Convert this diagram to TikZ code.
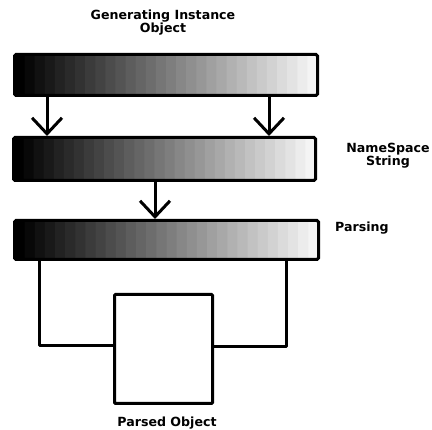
\documentclass[tikz,border=0pt]{standalone}
\usepackage{fontspec}
\setmainfont{DejaVu Sans}
\usetikzlibrary{calc,arrows.meta}

\tikzset{
  shadedbar/.style={draw, line width=3pt, rounded corners=1.5pt, inner sep=0pt,
    path picture={
      \foreach \i [evaluate=\i as \s using 100-3.3*\i] in {0,...,29}{
        \fill[black!\s]
          ($(path picture bounding box.south west)!\i/30!(path picture bounding box.south east)$)
          rectangle
          ([xshift=0.8pt]$(path picture bounding box.north west)!{(\i+1)/30}!(path picture bounding box.north east)$);
      }
    }},
  flow/.style={line width=3pt, -{Straight Barb[length=16pt,width=30pt,line width=3pt]}},
  wire/.style={line width=3pt, line join=round, line cap=round},
  label/.style={font=\bfseries\fontsize{12.6}{13}\selectfont, align=center, inner sep=0pt}
}

\begin{document}
\begin{tikzpicture}[x=1pt, y=-1pt]
  \useasboundingbox (0,0) rectangle (432,430);

  % three shaded stages
  \node[shadedbar, minimum width=303pt, minimum height=41pt] (gen)   at (166,75) {};
  \node[shadedbar, minimum width=302pt, minimum height=43pt] (ns)    at (164.5,159) {};
  \node[shadedbar, minimum width=304pt, minimum height=39pt] (parse) at (166.5,240) {};

  % result box
  \node[draw, line width=3pt, rounded corners=1pt, minimum width=98pt, minimum height=109pt, inner sep=0pt] (obj) at (163.5,349) {};

  % captions
  \node[label] (tgen)   at (163,23)  {Generating Instance\\Object};
  \node[label] (tns)    at (388,156) {NameSpace\\String};
  \node[label, anchor=west] (tparse) at (335,228) {Parsing};
  \node[label] (tobj)   at (167,423) {Parsed Object};

  % connector positions
  \coordinate (xa) at (47,0);
  \coordinate (xb) at (269,0);
  \coordinate (xc) at (155,0);
  \coordinate (xl) at (39,0);
  \coordinate (xr) at (286,0);
  \coordinate (yl) at (0,346);
  \coordinate (yr) at (0,347);

  % arrows between stages
  \draw[flow] (gen.south -| xa) -- (ns.north -| xa);
  \draw[flow] (gen.south -| xb) -- (ns.north -| xb);
  \draw[flow] (ns.south -| xc) -- (parse.north -| xc);

  % outputs of parsing into the box
  \draw[wire] (parse.south -| xl) |- (obj.west |- yl);
  \draw[wire] (parse.south -| xr) |- (obj.east |- yr);
\end{tikzpicture}
\end{document}
